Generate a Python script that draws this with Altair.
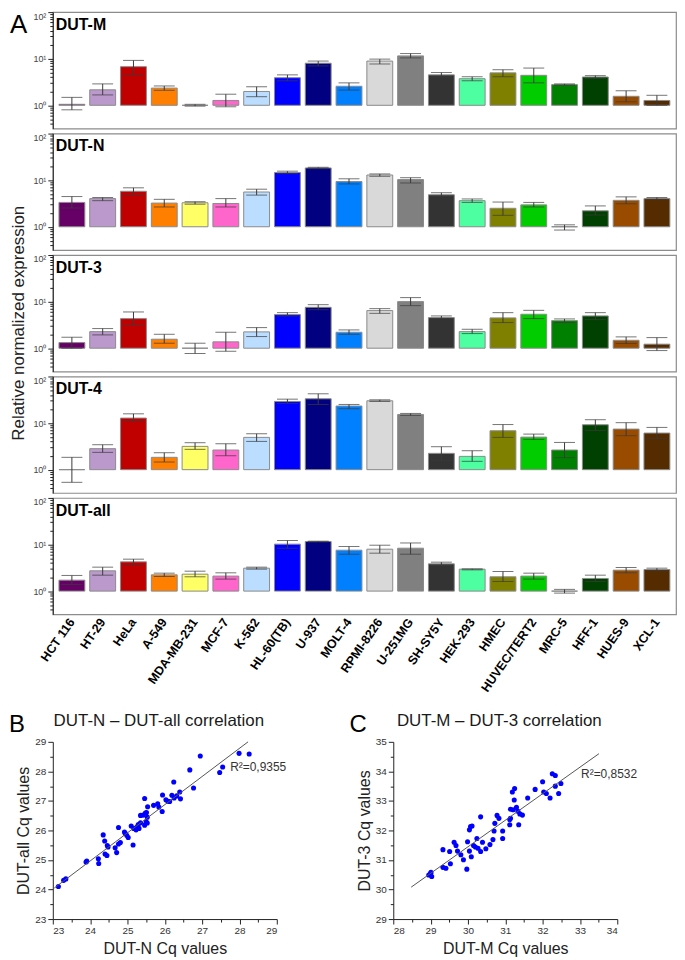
import altair as alt
import pandas as pd

FONT = "Liberation Sans"

cells = ["HCT 116", "HT-29", "HeLa", "A-549", "MDA-MB-231", "MCF-7", "K-562",
         "HL-60(TB)", "U-937", "MOLT-4", "RPMI-8226", "U-251MG", "SH-SY5Y",
         "HEK-293", "HMEC", "HUVEC/TERT2", "MRC-5", "HFF-1", "HUES-9", "XCL-1"]
colors = ["#660066", "#BB99CC", "#C00000", "#FF8000", "#FFFF66", "#FF66CC", "#BBDDFF",
          "#0000FF", "#000080", "#0080FF", "#D9D9D9", "#808080", "#333333",
          "#4DFFA0", "#808000", "#00CC00", "#008000", "#004000", "#994C00", "#552B00"]

dutm_mean = [1.05, 2.15, 6.75, 2.34, 1.0, 1.27, 1.98, 3.91, 8.0, 2.56, 8.9, 11.5, 4.5, 3.72, 4.97, 4.4, 2.78, 4.05, 1.56, 1.27]
dutm_hi = [1.48, 2.88, 9.2, 2.6, 1.05, 1.73, 2.5, 4.5, 8.9, 3.03, 9.8, 12.9, 5.05, 4.1, 5.8, 6.3, 2.88, 4.33, 2.05, 1.64]
dutm_lo = [0.8, 1.67, 4.5, 2.1, 0.96, 0.93, 1.53, 3.36, 7.0, 2.12, 7.7, 10.4, 4.05, 3.36, 4.1, 3.03, 2.7, 3.78, 1.19, 1.0]

dutn_mean = [3.33, 4.02, 5.77, 3.22, 3.27, 3.16, 5.57, 14.6, 18.3, 9.34, 12.9, 10.3, 4.86, 3.63, 2.49, 2.95, 1.0, 2.2, 3.69, 4.02]
dutn_hi = [4.45, 4.24, 6.85, 3.88, 3.45, 4.02, 6.4, 15.6, 18.9, 10.7, 13.6, 11.3, 5.38, 3.95, 3.39, 3.33, 1.1, 2.8, 4.38, 4.24]
dutn_lo = [2.53, 3.63, 4.86, 2.66, 3.05, 2.66, 4.78, 13.8, 17.6, 8.3, 12.1, 8.7, 4.45, 3.33, 1.76, 2.66, 0.85, 1.79, 3.11, 3.88]

dut3_mean = [1.32, 2.27, 4.32, 1.56, 1.0, 1.37, 2.24, 5.27, 7.55, 2.2, 6.42, 10.0, 4.54, 2.27, 4.47, 5.35, 3.91, 4.93, 1.48, 1.22]
dut3_hi = [1.72, 2.64, 6.0, 1.99, 1.28, 2.2, 2.77, 5.8, 8.6, 2.47, 7.07, 12.2, 4.93, 2.55, 5.8, 6.5, 4.25, 5.8, 1.75, 1.69]
dut3_lo = [1.0, 1.93, 3.11, 1.28, 0.77, 0.86, 1.78, 4.93, 6.7, 1.99, 5.6, 8.2, 4.25, 2.06, 3.55, 4.32, 3.55, 4.11, 1.26, 0.89]

dut4_mean = [1.0, 2.82, 12.8, 1.84, 3.16, 2.64, 4.93, 29.1, 33.2, 23.2, 30.1, 15.3, 2.24, 1.93, 6.84, 5.0, 2.64, 9.2, 7.43, 6.1]
dut4_hi = [1.84, 3.43, 15.8, 2.31, 3.79, 3.6, 5.9, 32.6, 42.5, 25.1, 31.6, 16.1, 3.11, 2.55, 9.3, 5.8, 3.84, 11.8, 10.2, 8.07]
dut4_lo = [0.535, 2.35, 10.9, 1.46, 2.73, 1.99, 4.04, 26.4, 25.1, 20.3, 29.1, 14.6, 1.56, 1.51, 4.93, 4.47, 1.81, 6.95, 5.35, 4.7]

dutall_mean = [1.72, 2.73, 4.25, 2.24, 2.31, 2.1, 3.11, 10.2, 11.6, 7.56, 7.94, 8.34, 3.85, 2.96, 2.03, 2.1, 1.0, 1.87, 2.82, 2.91]
dutall_hi = [2.17, 3.27, 4.85, 2.43, 2.68, 2.47, 3.27, 12.2, 11.8, 9.06, 9.67, 10.8, 4.18, 3.01, 2.64, 2.43, 1.09, 2.2, 3.21, 3.11]
dutall_lo = [1.39, 2.2, 3.66, 2.06, 2.03, 1.81, 2.96, 8.3, 11.4, 6.2, 6.52, 6.2, 3.55, 2.86, 1.61, 1.81, 0.906, 1.61, 2.47, 2.77]

# Scatter B: DUT-N vs DUT-all Cq values
b_x = [23.15, 23.29, 23.35, 23.89, 23.91, 24.22, 24.23, 24.35, 24.39, 24.40, 24.45, 24.46, 24.48,
       24.67, 24.71, 24.76, 24.76, 24.81, 24.92, 24.94, 24.98, 25.02, 25.10, 25.15, 25.17, 25.23,
       25.26, 25.29, 25.31, 25.35, 25.35, 25.42, 25.46, 25.46, 25.48, 25.50, 25.51, 25.53, 25.53,
       25.54, 25.70, 25.81, 25.84, 25.93, 25.94, 26.03, 26.08, 26.13, 26.19, 26.24, 26.25, 26.32,
       26.40, 26.42, 26.67, 26.77, 26.95, 27.47, 27.55, 27.99, 28.26]
b_y = [24.10, 24.31, 24.36, 24.93, 24.96, 25.04, 24.88, 25.85, 25.64, 25.20, 25.15, 25.49, 25.44,
       25.41, 25.25, 26.10, 25.54, 25.59, 25.95, 25.90, 25.84, 25.76, 26.15, 25.51, 26.07, 26.02,
       26.12, 26.20, 26.07, 26.26, 26.51, 26.52, 26.18, 27.08, 26.59, 26.29, 26.61, 26.25, 26.45,
       26.80, 26.85, 26.90, 26.79, 26.64, 27.20, 27.04, 26.99, 26.98, 27.19, 27.64, 27.10, 27.17,
       27.30, 27.07, 28.05, 27.44, 28.52, 27.96, 28.15, 28.61, 28.59]
b_fit_x = [23.04, 28.23]
b_fit_y = [24.05, 29.0]

# Scatter C: DUT-M vs DUT-3 Cq values
c_x = [28.95, 29.00, 29.03, 29.01, 29.33, 29.33, 29.41, 29.51, 29.53, 29.63, 29.68, 29.72, 29.81,
       29.88, 29.97, 29.99, 30.04, 30.04, 30.07, 30.11, 30.09, 30.15, 30.20, 30.24, 30.27, 30.34,
       30.34, 30.39, 30.48, 30.59, 30.67, 30.70, 30.72, 30.78, 30.83, 30.93, 30.93, 31.12, 31.12,
       31.14, 31.14, 31.19, 31.21, 31.24, 31.25, 31.30, 31.34, 31.36, 31.39, 31.46, 31.60, 31.80,
       32.00, 32.03, 32.10, 32.20, 32.26, 32.34, 32.34, 32.43, 32.49]
c_y = [30.49, 30.55, 30.44, 30.58, 31.35, 30.75, 30.72, 31.29, 30.87, 31.60, 31.49, 31.30, 31.18,
       31.01, 30.69, 31.62, 31.30, 32.02, 32.13, 32.15, 31.11, 31.49, 31.44, 31.73, 31.40, 31.29,
       32.46, 31.60, 31.38, 31.52, 31.69, 31.98, 32.24, 32.51, 32.41, 31.98, 31.73, 32.37, 32.19,
       32.41, 32.72, 33.30, 32.70, 33.03, 33.42, 32.78, 32.65, 32.19, 32.56, 32.52, 33.10, 33.39,
       33.65, 33.30, 33.25, 33.10, 33.92, 33.86, 33.50, 33.25, 33.59]
c_fit_x = [28.48, 33.51]
c_fit_y = [30.08, 34.60]

panels = [
    ("DUT-M", dutm_mean, dutm_hi, dutm_lo),
    ("DUT-N", dutn_mean, dutn_hi, dutn_lo),
    ("DUT-3", dut3_mean, dut3_hi, dut3_lo),
    ("DUT-4", dut4_mean, dut4_hi, dut4_lo),
    ("DUT-all", dutall_mean, dutall_hi, dutall_lo),
]

yvals = [0.4, 0.5, 0.6, 0.7, 0.8, 0.9] + [float(i) for i in range(1, 10)] + [float(10 * i) for i in range(1, 11)]
PW, PH = 626, 117


def bar_panel(name, mean, hi, lo, show_x=False, ytitle=None, letter=None):
    df = pd.DataFrame({"cell": cells, "mean": mean, "hi": hi, "lo": lo,
                       "base": [1.0] * len(cells)})
    xscale = alt.Scale(domain=cells, paddingInner=0.16, paddingOuter=0.2)
    if show_x:
        xaxis = alt.Axis(title=None, labelAngle=-55, labelAlign="right", labelBaseline="middle",
                         labelFontWeight="bold", labelFontSize=12.5, labelColor="black",
                         labelFont=FONT, ticks=False, domain=False, labelPadding=5)
    else:
        xaxis = None
    yscale = alt.Scale(type="log", domain=[10 ** -0.5, 100])
    yaxis_kw = dict(
        values=yvals,
        labelExpr="datum.value == 1 ? '10⁰' : datum.value == 10 ? '10¹' : datum.value == 100 ? '10²' : ''",
        tickSize={"condition": {"test": "datum.value == 1 || datum.value == 10 || datum.value == 100",
                                "value": 5}, "value": 3},
        grid=False, domainColor="#222", tickColor="#222", labelFontSize=9, labelColor="#444",
        labelFont=FONT, labelPadding=2, labelFlush=True,
    )
    if ytitle:
        yaxis = alt.Axis(title=ytitle, titleFontSize=17, titleFontWeight="normal", titleFont=FONT,
                         titleColor="#222", titleX=-34, titleY=68, titleBaseline="middle",
                         **yaxis_kw)
    else:
        yaxis = alt.Axis(title=None, **yaxis_kw)
    x = alt.X("cell:N", sort=cells, scale=xscale, axis=xaxis)
    base = alt.Chart(df)
    bars = base.mark_bar(stroke="#8a8a8a", strokeWidth=1).encode(
        x=x,
        y=alt.Y("mean:Q", scale=yscale, axis=yaxis),
        y2="base:Q",
        color=alt.Color("cell:N", scale=alt.Scale(domain=cells, range=colors), legend=None),
    )
    err = base.mark_rule(color="#3a3a3a", strokeWidth=1).encode(
        x=x, y=alt.Y("lo:Q", scale=yscale, axis=yaxis), y2="hi:Q")
    cap_hi = base.mark_tick(color="#3a3a3a", size=21, thickness=1).encode(
        x=x, y=alt.Y("hi:Q", scale=yscale, axis=yaxis))
    cap_lo = base.mark_tick(color="#3a3a3a", size=21, thickness=1).encode(
        x=x, y=alt.Y("lo:Q", scale=yscale, axis=yaxis))
    label = alt.Chart(pd.DataFrame({"t": [name]})).mark_text(
        align="left", baseline="top", fontSize=16, fontWeight="bold", font=FONT, color="black"
    ).encode(text="t:N", x=alt.value(3), y=alt.value(5))
    layers = [bars, err, cap_hi, cap_lo, label]
    if letter:
        layers.append(alt.Chart(pd.DataFrame({"t": [letter]})).mark_text(
            align="left", baseline="top", fontSize=26, font=FONT, color="black"
        ).encode(text="t:N", x=alt.value(-43), y=alt.value(0)))
    return alt.layer(*layers).properties(
        width=PW, height=PH, view=alt.ViewBackground(stroke="#8c8c8c", strokeWidth=1.2))


bar_charts = []
for i, (name, m, h, l) in enumerate(panels):
    bar_charts.append(bar_panel(
        name, m, h, l,
        show_x=(i == len(panels) - 1),
        ytitle="Relative normalized expression" if i == 2 else None,
        letter="A" if i == 0 else None,
    ))
bars_block = alt.vconcat(*bar_charts, spacing=5, bounds="flush")

SW, SH = 225, 178


def scatter(xs, ys, fx, fy, r2pos, r2text, xdom, ydom, xtitle, ytitle, title, letter):
    xvals = [xdom[0] + 0.5 * i for i in range(int((xdom[1] - xdom[0]) * 2) + 1)]
    yv = [ydom[0] + 0.5 * i for i in range(int((ydom[1] - ydom[0]) * 2) + 1)]
    common = dict(
        labelExpr="datum.value % 1 == 0 ? format(datum.value, 'd') : ''",
        tickSize={"condition": {"test": "datum.value % 1 == 0", "value": 5}, "value": 3},
        grid=False, domainColor="#222", tickColor="#222", labelFontSize=10, labelColor="#333",
        labelFont=FONT, titleFont=FONT, titleFontSize=16, titleFontWeight="normal",
        titleColor="#222",
    )
    xaxis = alt.Axis(values=xvals, title=xtitle, titlePadding=5, labelPadding=2, **common)
    yaxis = alt.Axis(values=yv, title=ytitle, titlePadding=3, labelPadding=2, **common)
    X = alt.X("x:Q", scale=alt.Scale(domain=xdom, nice=False, zero=False), axis=xaxis)
    Y = alt.Y("y:Q", scale=alt.Scale(domain=ydom, nice=False, zero=False), axis=yaxis)
    pts = alt.Chart(pd.DataFrame({"x": xs, "y": ys})).mark_circle(
        size=26, color="#0000FF", opacity=1).encode(x=X, y=Y)
    fit = alt.Chart(pd.DataFrame({"x": fx, "y": fy})).mark_line(
        color="#555555", strokeWidth=1).encode(x=X, y=Y)
    r2 = alt.Chart(pd.DataFrame({"x": [r2pos[0]], "y": [r2pos[1]], "t": [r2text]})).mark_text(
        align="left", baseline="middle", fontSize=12, font=FONT, color="#333"
    ).encode(x=X, y=Y, text="t:N")
    let = alt.Chart(pd.DataFrame({"t": [letter]})).mark_text(
        align="left", baseline="top", fontSize=24, font=FONT, color="black"
    ).encode(text="t:N", x=alt.value(-44), y=alt.value(-29))
    ttl = alt.Chart(pd.DataFrame({"t": [title]})).mark_text(
        align="center", baseline="middle", fontSize=17, font=FONT, color="#1a1a1a"
    ).encode(text="t:N", x=alt.value(SW / 2 - 6), y=alt.value(-21))
    return alt.layer(pts, fit, r2, let, ttl).properties(width=SW, height=SH)


chart_b = scatter(b_x, b_y, b_fit_x, b_fit_y, (27.75, 28.14), "R²=0,9355", [23, 29], [23, 29],
                  "DUT-N Cq values", "DUT-all Cq values", "DUT-N – DUT-all correlation", "B")
chart_c = scatter(c_x, c_y, c_fit_x, c_fit_y, (33.03, 33.92), "R²=0,8532", [28, 34], [29, 35],
                  "DUT-M Cq values", "DUT-3 Cq values", "DUT-M – DUT-3 correlation", "C")
row = alt.hconcat(chart_b, chart_c, spacing=62)

chart = alt.vconcat(bars_block, row, spacing=16).properties(
    padding={"left": 0, "right": 0, "top": 0, "bottom": 0}
).configure_view(stroke="transparent")

chart.save("out.html", embed_options={"renderer": "svg", "actions": False})
